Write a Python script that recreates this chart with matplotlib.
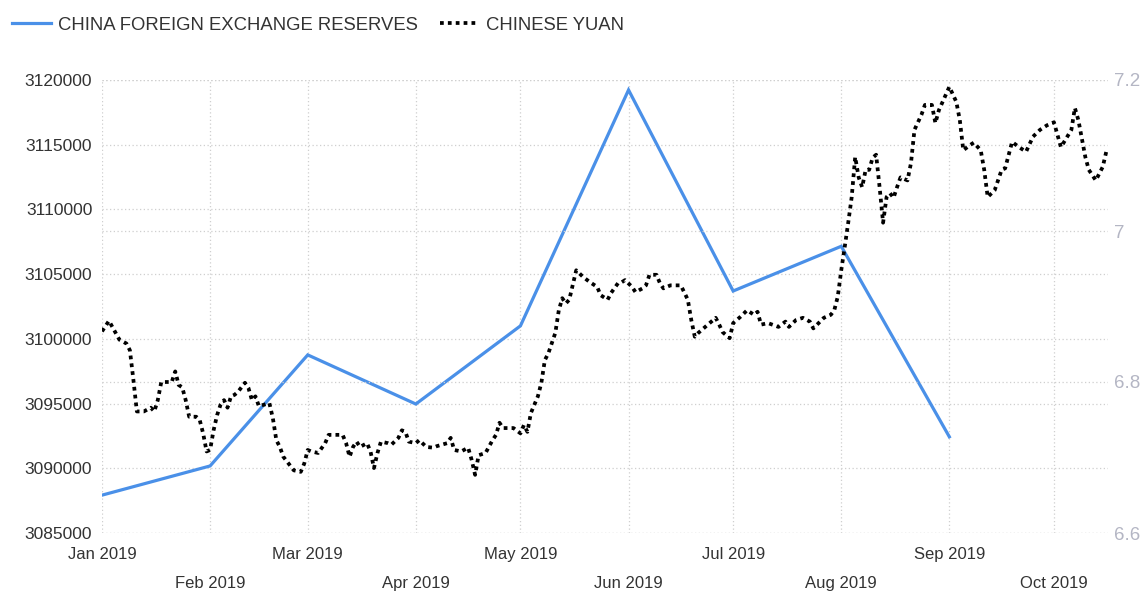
import numpy as np
import matplotlib
matplotlib.use('Agg')
from matplotlib import pyplot as plt
import matplotlib.dates as mdates
from matplotlib.ticker import FuncFormatter
from matplotlib.lines import Line2D

plt.rcParams['font.family'] = ['Liberation Sans', 'DejaVu Sans']

# China FX reserves (USD mn), plotted at the start of each month
res_months = ['2019-01-01', '2019-02-01', '2019-03-01', '2019-04-01', '2019-05-01',
              '2019-06-01', '2019-07-01', '2019-08-01', '2019-09-01']
res_values = [3087924, 3090180, 3098761, 3094965, 3101004, 3119230, 3103697, 3107152, 3092431]

# USD/CNY, days since 2019-01-01
yuan_day = [0, 2, 5, 7, 8, 9, 10, 12, 14, 15, 16, 17, 20, 21, 22, 23, 24, 25, 27, 28,
            29, 30, 31, 32, 33, 34, 35, 36, 37, 38, 39, 41, 42, 43, 44, 45, 48, 49, 50, 51,
            52, 55, 57, 58, 59, 60, 62, 64, 65, 69, 70, 71, 72, 73, 74, 76, 77, 78, 79, 80,
            82, 83, 85, 86, 87, 88, 90, 91, 93, 95, 96, 99, 100, 101, 103, 105, 106, 107, 108, 110,
            112, 113, 114, 115, 118, 120, 121, 122, 123, 125, 126, 127, 128, 130, 131, 132, 133, 134, 136, 138,
            140, 142, 143, 145, 146, 148, 149, 150, 152, 153, 155, 156, 157, 159, 160, 161, 163, 166, 168, 169,
            170, 171, 173, 176, 177, 178, 180, 181, 182, 183, 185, 187, 188, 189, 191, 194, 196, 197, 199, 201,
            203, 204, 207, 209, 210, 211, 212, 213, 214, 215, 216, 217, 218, 219, 220, 221, 222, 223, 224, 225,
            226, 227, 228, 229, 231, 232, 233, 235, 236, 238, 239, 240, 243, 245, 246, 247, 249, 250, 252, 253,
            254, 256, 258, 259, 261, 263, 265, 267, 269, 271, 273, 275, 278, 279, 280, 282, 283, 285, 287, 288]
yuan_rate = [6.867, 6.881, 6.856, 6.851, 6.842, 6.803, 6.761, 6.761, 6.766, 6.761, 6.776, 6.800, 6.800, 6.814, 6.796, 6.793, 6.776, 6.754, 6.754, 6.750,
             6.732, 6.708, 6.710, 6.736, 6.756, 6.770, 6.776, 6.766, 6.781, 6.783, 6.787, 6.799, 6.792, 6.776, 6.781, 6.768, 6.772, 6.752, 6.723, 6.714,
             6.701, 6.683, 6.681, 6.692, 6.710, 6.708, 6.706, 6.719, 6.730, 6.730, 6.719, 6.701, 6.714, 6.721, 6.714, 6.719, 6.708, 6.686, 6.706, 6.721,
             6.719, 6.717, 6.726, 6.736, 6.734, 6.721, 6.719, 6.723, 6.714, 6.713, 6.715, 6.719, 6.726, 6.710, 6.708, 6.713, 6.697, 6.677, 6.703, 6.706,
             6.723, 6.730, 6.746, 6.739, 6.739, 6.732, 6.743, 6.734, 6.759, 6.781, 6.799, 6.829, 6.838, 6.865, 6.895, 6.911, 6.904, 6.909, 6.948, 6.939,
             6.932, 6.926, 6.915, 6.909, 6.918, 6.931, 6.932, 6.935, 6.926, 6.919, 6.924, 6.928, 6.942, 6.942, 6.931, 6.924, 6.928, 6.928, 6.909, 6.882,
             6.860, 6.865, 6.873, 6.885, 6.876, 6.866, 6.858, 6.878, 6.882, 6.886, 6.895, 6.889, 6.893, 6.876, 6.878, 6.873, 6.880, 6.873, 6.882, 6.885,
             6.880, 6.871, 6.885, 6.889, 6.895, 6.913, 6.948, 6.979, 7.011, 7.045, 7.098, 7.071, 7.058, 7.081, 7.081, 7.097, 7.101, 7.058, 7.011, 7.045,
             7.050, 7.044, 7.058, 7.071, 7.067, 7.090, 7.134, 7.154, 7.167, 7.167, 7.143, 7.160, 7.191, 7.171, 7.147, 7.107, 7.114, 7.117, 7.107, 7.081,
             7.045, 7.054, 7.081, 7.083, 7.118, 7.111, 7.105, 7.125, 7.134, 7.140, 7.144, 7.111, 7.134, 7.163, 7.147, 7.098, 7.081, 7.067, 7.085, 7.105]

month_ticks = ['2019-01-01', '2019-02-01', '2019-03-01', '2019-04-01', '2019-05-01',
               '2019-06-01', '2019-07-01', '2019-08-01', '2019-09-01', '2019-10-01']
month_labels = ['Jan 2019', 'Feb 2019', 'Mar 2019', 'Apr 2019', 'May 2019',
                'Jun 2019', 'Jul 2019', 'Aug 2019', 'Sep 2019', 'Oct 2019']

start = np.datetime64('2019-01-01')
res_x = np.array(res_months, dtype='datetime64[D]')
yuan_x = start + np.array(yuan_day, dtype='timedelta64[D]')
ticks = mdates.date2num(np.array(month_ticks, dtype='datetime64[D]'))

fig = plt.figure(figsize=(11.42, 5.95), dpi=100)
ax = fig.add_axes([102/1142, 1 - 533/595, (1108-102)/1142, (533-80)/595])
ax2 = ax.twinx()

blue = '#4a90e8'
ax.plot(res_x, res_values, color=blue, lw=2.3, solid_joinstyle='miter')
ax2.plot(yuan_x, yuan_rate, color='black', lw=2.7, linestyle=(0, (1, 1.1)))

ax.set_ylim(3085000, 3120000)
ax.set_yticks(np.arange(3085000, 3120001, 5000))
ax.yaxis.set_major_formatter(FuncFormatter(lambda v, p: '%d' % v))
ax2.set_ylim(6.6, 7.2)
ax2.set_yticks([6.6, 6.8, 7.0, 7.2])
ax2.set_yticklabels(['6.6', '6.8', '7', '7.2'])
ax.set_xlim(mdates.date2num(start), mdates.date2num(start) + 288.5)

# odd months on the first row, even months on the second
ax.set_xticks(ticks[0::2])
ax.set_xticklabels(month_labels[0::2])
ax.set_xticks(ticks[1::2], minor=True)
ax.set_xticklabels(month_labels[1::2], minor=True)

grid_kw = dict(color='#cfcfcf', linestyle=(0, (1, 2)), linewidth=0.9)
ax.grid(True, axis='both', which='both', **grid_kw)
ax2.grid(True, axis='y', **grid_kw)
ax.set_axisbelow(True)

for a in (ax, ax2):
    for s in a.spines.values():
        s.set_visible(False)

ax.tick_params(axis='y', length=0, pad=7, labelsize=12.5, labelcolor='#333333')
ax2.tick_params(axis='y', length=0, pad=4, labelsize=13.5, labelcolor='#b4b6c4')
ax.tick_params(axis='x', which='major', length=0, pad=10, labelsize=12, labelcolor='#333333')
ax.tick_params(axis='x', which='minor', length=0, pad=31, labelsize=12, labelcolor='#333333')

handles = [Line2D([], [], color=blue, lw=2.3),
           Line2D([], [], color='black', lw=2.7, linestyle=(0, (1, 1.1)))]
fig.legend(handles, ['CHINA FOREIGN EXCHANGE RESERVES', 'CHINESE YUAN'],
           loc='center left', bbox_to_anchor=(12/1142, 1 - 25/595), ncol=2,
           frameon=False, fontsize=13.3, labelcolor='#333333',
           handlelength=2.1, handletextpad=0.4, columnspacing=1.2,
           borderpad=0, borderaxespad=0)

fig.savefig('out.png', dpi=100)
